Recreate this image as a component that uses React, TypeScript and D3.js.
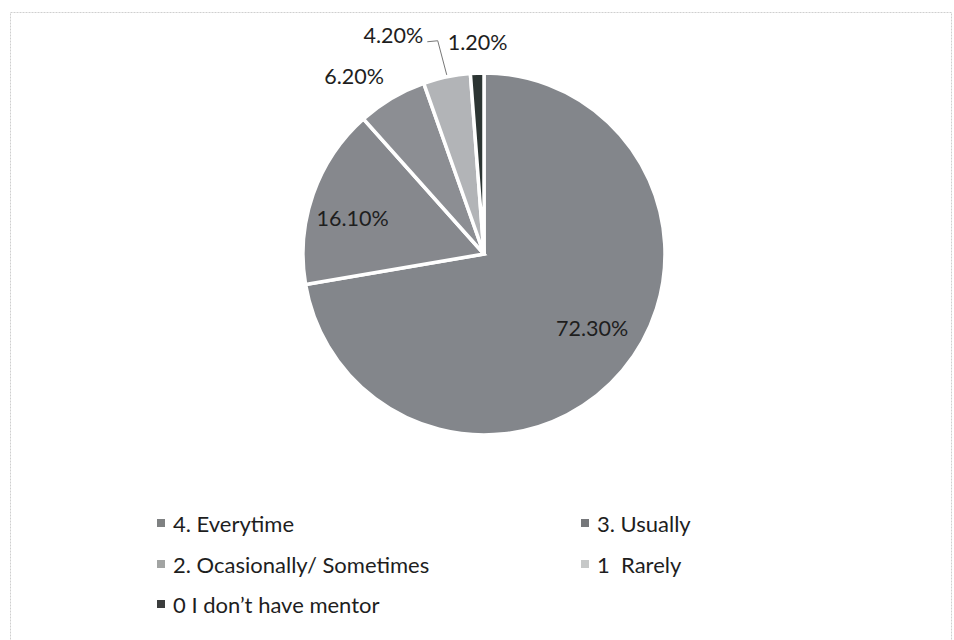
import React from "react";
import * as d3 from "d3";

const categories = ["4. Everytime", "3. Usually", "2. Ocasionally/ Sometimes", "1  Rarely", "0 I don\u2019t have mentor"];
const values = [72.3, 16.1, 6.2, 4.2, 1.2];
const labels = ["72.30%", "16.10%", "6.20%", "4.20%", "1.20%"];
const sliceColors = ["#83868b", "#86888d", "#8c8e93", "#b2b4b7", "#2c3533"];
const legendColors = ["#7f8182", "#76787b", "#a2a4a3", "#c6c8c8", "#3b3d3d"];

// label placement: [radius, dx, dy] relative to slice mid angle
const labelLayout = [
  { r: 131, dx: 8, dy: -10 },
  { r: 136, dx: -3, dy: 9 },
  { r: 218, dx: -19, dy: 10 },
  { r: 222, dx: -45, dy: -2 },
  { r: 212, dx: 1.5, dy: 0 },
];

const W = 954, H = 640;
const cx = 484, cy = 254, R = 181;

export default function App() {
  const pie = d3.pie<number>().sort(null).value((d) => d);
  const arcs = pie(values);
  const arc = d3.arc<d3.PieArcDatum<number>>().innerRadius(0).outerRadius(R);
  const pos = (a: number, r: number) => [Math.sin(a) * r, -Math.cos(a) * r];
  const font = "Lato, 'Open Sans', sans-serif";

  const legendX = [161, 585];
  const legendY = [523, 564, 604];

  return (
    <svg width={W} height={H} style={{ position: "absolute", left: 0, top: 0, background: "#fff" }}>
      <rect x={10.5} y={12.5} width={941} height={640} fill="#fff" stroke="#cfcfcf" strokeWidth={1} strokeDasharray="2,1" />
      <g transform={`translate(${cx},${cy})`}>
        {arcs.map((a, i) => (
          <path key={i} d={arc(a) || ""} fill={sliceColors[i]} stroke="#fff" strokeWidth={3.5} strokeLinejoin="miter" />
        ))}
        {arcs.map((a, i) => {
          const mid = (a.startAngle + a.endAngle) / 2;
          const L = labelLayout[i];
          const [x, y] = pos(mid, L.r);
          return (
            <text key={i} x={x + L.dx} y={y + L.dy} textAnchor="middle" dominantBaseline="central"
              fontFamily={font} fontSize={21.5} fill="#1e1e1e">{labels[i]}</text>
          );
        })}
        {(() => {
          const a = arcs[3];
          const mid = (a.startAngle + a.endAngle) / 2;
          const [ex, ey] = pos(mid, R);
          const L = labelLayout[3];
          const [lx, ly] = pos(mid, L.r);
          const startX = lx + L.dx + 34;
          const startY = ly + L.dy + 7;
          return (
            <polyline points={`${startX},${startY} ${ex - 9},${startY - 1} ${ex},${ey - 2}`}
              fill="none" stroke="#777" strokeWidth={1} />
          );
        })()}
      </g>
      {categories.map((c, i) => {
        const x = legendX[i % 2];
        const y = legendY[Math.floor(i / 2)];
        return (
          <g key={i}>
            <rect x={x - 4} y={y - 4} width={8} height={8} fill={legendColors[i]} />
            <text x={x + 12} y={y} dominantBaseline="central" fontFamily={font} fontSize={22} fill="#1e1e1e"
              style={{ whiteSpace: "pre" }}>{c}</text>
          </g>
        );
      })}
    </svg>
  );
}
